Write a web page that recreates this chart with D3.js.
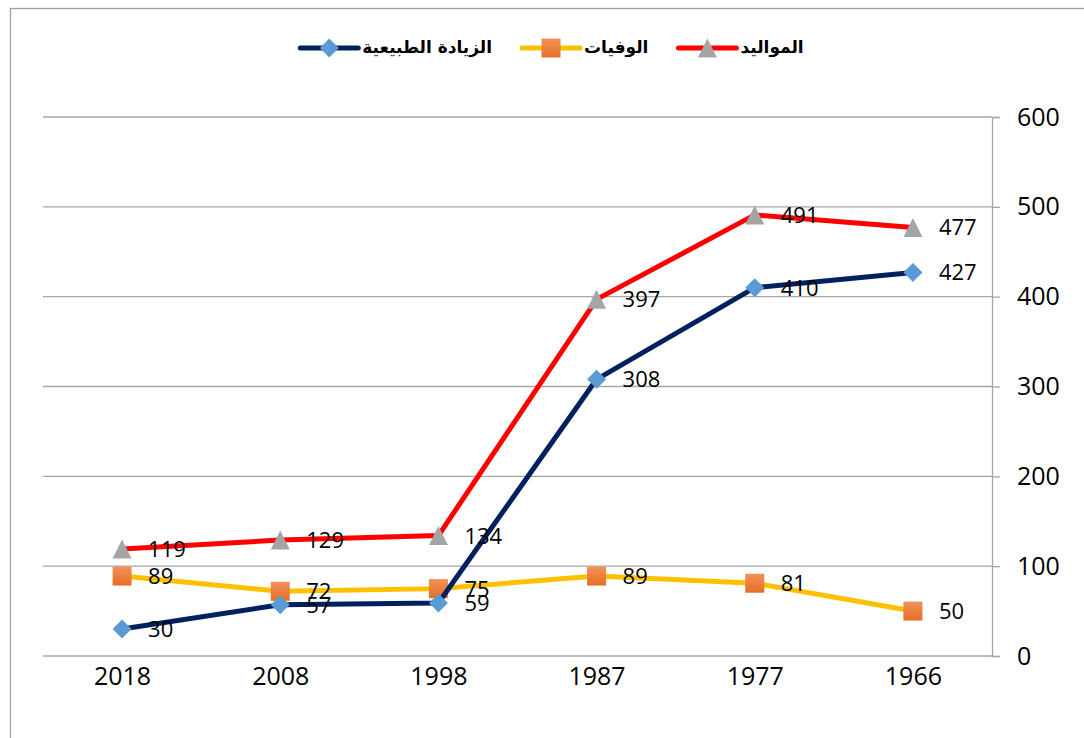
<!DOCTYPE html>
<html><head><meta charset="utf-8">
<script src="https://cdn.jsdelivr.net/npm/d3@7"></script>
<style>
html,body{margin:0;padding:0;background:#fff;}
svg{display:block;}
</style></head>
<body>
<svg id="chart" width="1084" height="738"></svg>
<script>
const categories = ["2018","2008","1998","1987","1977","1966"];
const births   = [119,129,134,397,491,477];
const deaths   = [89,72,75,89,81,50];
const increase = [30,57,59,308,410,427];
const yTicks   = [0,100,200,300,400,500,600];
const seriesNames = ["المواليد","الوفيات","الزيادة الطبيعية"];

const series = [
  {name: seriesNames[0], values: births,   color:"#FF0000", marker:"triangle", fill:"#A5A5A5"},
  {name: seriesNames[1], values: deaths,   color:"#FFC000", marker:"square",   fill:"url(#sqGrad)"},
  {name: seriesNames[2], values: increase, color:"#002060", marker:"diamond",  fill:"#5B9BD5"}
];

const svg = d3.select("#chart");
const defs = svg.append("defs");
const g0 = defs.append("linearGradient").attr("id","sqGrad").attr("x1",0).attr("y1",0).attr("x2",0).attr("y2",1);
g0.append("stop").attr("offset","0%").attr("stop-color","#F3915A");
g0.append("stop").attr("offset","100%").attr("stop-color","#E66E25");

// outer border
svg.append("rect").attr("x",10.5).attr("y",8.5).attr("width",1100).attr("height",800)
  .attr("fill","none").attr("stroke","#A0A0A0").attr("stroke-width",1.3);

const x = d3.scalePoint().domain(categories).range([43,992]).padding(0.5);
const y = d3.scaleLinear().domain([0,600]).range([656,117]);

// gridlines
svg.append("g").selectAll("line").data(yTicks).join("line")
  .attr("x1",43).attr("x2",992)
  .attr("y1",d=>y(d)).attr("y2",d=>y(d))
  .attr("stroke","#A6A6A6").attr("stroke-width",1.3);

// right axis
const yAxis = svg.append("g").attr("transform","translate(992,0)")
  .call(d3.axisRight(y).tickValues(yTicks).tickSize(8).tickPadding(17));
yAxis.select(".domain").attr("stroke","#A6A6A6").attr("stroke-width",1.3);
yAxis.selectAll(".tick line").attr("stroke","#A6A6A6").attr("stroke-width",1.3);
yAxis.selectAll("text").attr("font-family","'Open Sans'").attr("font-size",25).attr("fill","#000");

// x axis labels
const xAxis = svg.append("g").attr("transform","translate(0,656)")
  .call(d3.axisBottom(x).tickSize(0));
xAxis.select(".domain").remove();
xAxis.selectAll("text").attr("font-family","'Open Sans'").attr("font-size",25).attr("fill","#000")
  .attr("y",29).attr("dy",0);

function markerPath(type, s){
  const h = s/2;
  if(type==="triangle") return `M0,${-h}L${h},${h}L${-h},${h}Z`;
  if(type==="square") return `M${-h},${-h}H${h}V${h}H${-h}Z`;
  return `M0,${-h}L${h},0L0,${h}L${-h},0Z`;
}

const line = d3.line().x((d,i)=>x(categories[i])).y(d=>y(d));

series.forEach(s=>{
  const g = svg.append("g");
  g.append("path").datum(s.values).attr("d",line)
    .attr("fill","none").attr("stroke",s.color).attr("stroke-width",5)
    .attr("stroke-linejoin","round").attr("stroke-linecap","round");
  g.selectAll("path.m").data(s.values).join("path").attr("class","m")
    .attr("transform",(d,i)=>`translate(${x(categories[i])},${y(d)})`)
    .attr("d",markerPath(s.marker, s.marker==="diamond"?19:(s.marker==="square"?19:19)))
    .attr("fill",s.fill);
});

// data labels
series.forEach(s=>{
  svg.append("g").selectAll("text").data(s.values).join("text")
    .attr("x",(d,i)=>x(categories[i])+26)
    .attr("y",d=>y(d))
    .attr("dy","0.36em")
    .attr("font-family","'Open Sans'").attr("font-size",22).attr("fill","#000")
    .text(d=>d);
});

// legend (left to right as displayed)
const legendOrder = [series[2], series[1], series[0]];
const legend = svg.append("g");
const lineLen = 58, gapText = 4, gapItem = 30, legY = 48;
let items = legendOrder.map(s=>{
  const gi = legend.append("g");
  gi.append("line").attr("x1",0).attr("x2",lineLen).attr("y1",legY).attr("y2",legY)
    .attr("stroke",s.color).attr("stroke-width",5).attr("stroke-linecap","round");
  gi.append("path").attr("transform",`translate(${lineLen/2},${legY})`)
    .attr("d",markerPath(s.marker,19)).attr("fill",s.fill);
  const t = gi.append("text").attr("x",lineLen+gapText).attr("y",legY).attr("dy","0.3em")
    .attr("font-family","'DejaVu Sans'").attr("font-weight","bold").attr("font-size",17)
    .attr("fill","#000").attr("text-anchor","start").attr("direction","ltr").text(s.name);
  const w = t.node().getComputedTextLength();
  return {gi, w: lineLen+gapText+w};
});
const total = d3.sum(items, d=>d.w) + gapItem*(items.length-1);
let cx = 552 - total/2;
items.forEach(it=>{ it.gi.attr("transform",`translate(${cx},0)`); cx += it.w + gapItem; });
</script>
</body></html>
